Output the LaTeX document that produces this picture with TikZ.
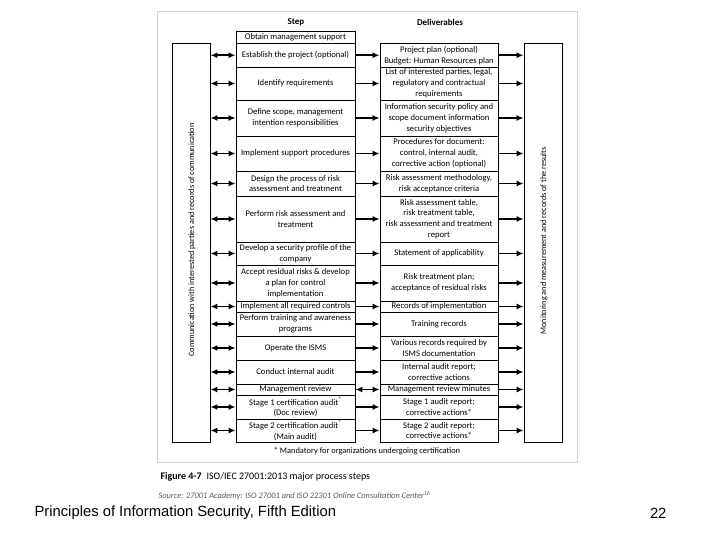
\documentclass[tikz,border=0pt]{standalone}
\usepackage{fontspec}
\setmainfont{Carlito}
\newfontfamily\arialfont{Liberation Sans}
\usetikzlibrary{arrows.meta}
\begin{document}
\begin{tikzpicture}[x=1pt,y=-1pt,
  box/.style={draw=black, line width=0.8pt, inner sep=0pt, align=center,
    font=\fontsize{8.6}{10.8}\selectfont},
  sbox/.style={box, minimum width=119pt},
  dbox/.style={box, minimum width=118pt},
  sarr/.style={-{Latex[length=7pt,width=6pt]}, line width=1.6pt},
  dbl/.style={{Latex[length=7pt,width=6pt]}-{Latex[length=7pt,width=6pt]}, line width=1.6pt},
  side/.style={draw=black, line width=0.8pt, minimum width=38pt, minimum height=398.5pt, inner sep=0pt},
  vtext/.style={rotate=90, font=\fontsize{8.2}{10}\selectfont},
  hdr/.style={font=\bfseries\fontsize{9}{11}\selectfont}
]
\useasboundingbox (0,0) rectangle (720,540);
\fill[white] (0,0) rectangle (720,540);
% figure frame
\draw[black!18, line width=0.8pt] (157,11) rectangle (577,462);

% headers
\node[hdr] (hs) at (296,22) {Step};
\node[hdr] (hd) at (440,22) {Deliverables};

% side boxes
\node[side] (L) at (191,242.75) {};
\node[side] (R) at (543,242.75) {};
\node[vtext] (lt) at (192,240) {Communication with interested parties and records of communication};
\node[vtext] (rt) at (544,241) {Monitoring and measurement and records of the results};

% step column
\node[sbox, minimum height=12pt]   (s0)  at (295.5,37.5)  {Obtain management support};
\node[sbox, minimum height=23.5pt] (s1)  at (295.5,55.25) {Establish the project (optional)};
\node[sbox, minimum height=33pt]   (s2)  at (295.5,83.5)  {Identify requirements};
\node[sbox, minimum height=36pt]   (s3)  at (295.5,118)   {Define scope, management\\intention responsibilities};
\node[sbox, minimum height=35pt]   (s4)  at (295.5,153.5) {Implement support procedures};
\node[sbox, minimum height=25pt]   (s5)  at (295.5,183.5) {Design the process of risk\\assessment and treatment};
\node[sbox, minimum height=46pt]   (s6)  at (295.5,219)   {Perform risk assessment and\\treatment};
\node[sbox, minimum height=23pt]   (s7)  at (295.5,253.5) {Develop a security profile of the\\company};
\node[sbox, minimum height=36pt]   (s8)  at (295.5,283)   {Accept residual risks \& develop\\a plan for control\\implementation};
\node[sbox, minimum height=11pt]   (s9)  at (295.5,306.5) {Implement all required controls};
\node[sbox, minimum height=24pt]   (s10) at (295.5,324)   {Perform training and awareness\\programs};
\node[sbox, minimum height=24pt]   (s11) at (295.5,348)   {Operate the ISMS};
\node[sbox, minimum height=24pt]   (s12) at (295.5,372)   {Conduct internal audit};
\node[sbox, minimum height=11pt]   (s13) at (295.5,389.5) {Management review};
\node[sbox, minimum height=24pt]   (s14) at (295.5,407)   {Stage 1 certification audit\textsuperscript{*}\\(Doc review)};
\node[sbox, minimum height=23pt]   (s15) at (295.5,430.5) {Stage 2 certification audit\textsuperscript{*}\\(Main audit)};

% deliverables column
\node[dbox, minimum height=23.5pt] (d1)  at (439,55.25) {Project plan (optional)\\Budget: Human Resources plan};
\node[dbox, minimum height=33pt]   (d2)  at (439,83.5)  {List of interested parties, legal,\\regulatory and contractual\\requirements};
\node[dbox, minimum height=36pt]   (d3)  at (439,118)   {Information security policy and\\scope document information\\security objectives};
\node[dbox, minimum height=35pt]   (d4)  at (439,153.5) {Procedures for document:\\control, internal audit,\\corrective action (optional)};
\node[dbox, minimum height=25pt]   (d5)  at (439,183.5) {Risk assessment methodology,\\risk acceptance criteria};
\node[dbox, minimum height=46pt]   (d6)  at (439,219)   {Risk assessment table,\\risk treatment table,\\risk assessment and treatment\\report};
\node[dbox, minimum height=23pt]   (d7)  at (439,253.5) {Statement of applicability};
\node[dbox, minimum height=36pt]   (d8)  at (439,283)   {Risk treatment plan;\\acceptance of residual risks};
\node[dbox, minimum height=11pt]   (d9)  at (439,306.5) {Records of implementation};
\node[dbox, minimum height=24pt]   (d10) at (439,324)   {Training records};
\node[dbox, minimum height=24pt]   (d11) at (439,348)   {Various records required by\\ISMS documentation};
\node[dbox, minimum height=24pt]   (d12) at (439,372)   {Internal audit report;\\corrective actions};
\node[dbox, minimum height=11pt]   (d13) at (439,389.5) {Management review minutes};
\node[dbox, minimum height=24pt]   (d14) at (439,407)   {Stage 1 audit report;\\corrective actions*};
\node[dbox, minimum height=23pt]   (d15) at (439,430.5) {Stage 2 audit report;\\corrective actions*};

% connectors
\foreach \i in {1,...,15} {
  \draw[dbl] (L.east |- s\i.west) -- (s\i.west);
  \draw[sarr] (d\i.east) -- (R.west |- d\i.east);
}
\foreach \i in {1,...,12,14,15} {
  \draw[sarr] (s\i.east) -- (d\i.west);
}
\draw[dbl] (s13.east) -- (d13.west);

% footnote
\node[font=\fontsize{8.4}{10}\selectfont] (fn) at (367,451) {* Mandatory for organizations undergoing certification};

% caption
\node[anchor=west, font=\fontsize{10}{12}\selectfont] (cap) at (157,477) {\textbf{Figure 4-7}\enspace ISO/IEC 27001:2013 major process steps};
\begin{scope}
\clip (150,488) rectangle (460,500);
\node[anchor=west, text=black!65, font=\itshape\fontsize{8.4}{10}\selectfont] (src) at (155,496) {Source: 27001 Academy: ISO 27001 and ISO 22301 Online Consultation Center\textsuperscript{16}};
\end{scope}

% footer
\node[anchor=west, font=\arialfont\fontsize{14.8}{17}\selectfont] (ft) at (31,513) {Principles of Information Security, Fifth Edition};
\node[anchor=east, font=\arialfont\fontsize{14.8}{17}\selectfont] (pg) at (670,513) {22};
\end{tikzpicture}
\end{document}
